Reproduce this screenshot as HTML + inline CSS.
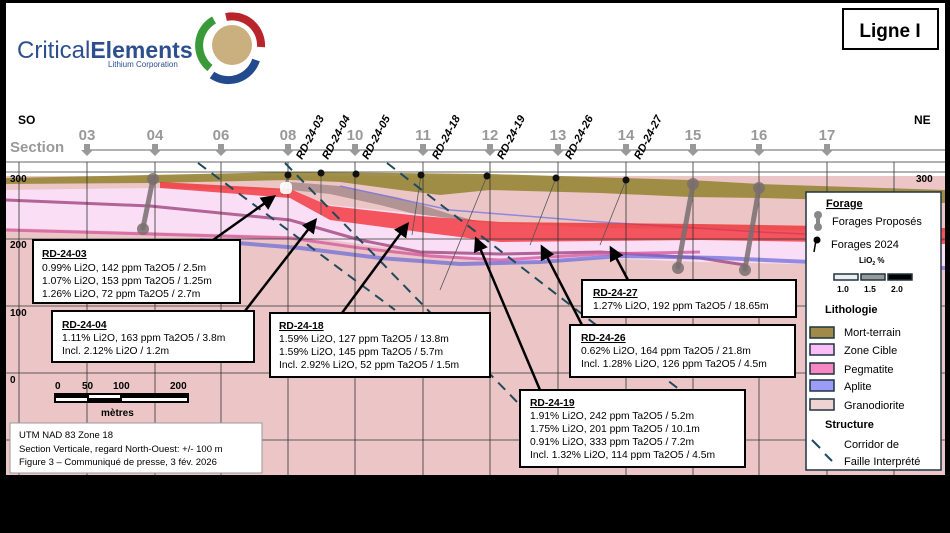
<!DOCTYPE html>
<html><head><meta charset="utf-8"><style>
html,body{margin:0;padding:0;background:#000;}
svg{display:block;}
text{font-family:"Liberation Sans",sans-serif;}
</style></head><body>
<svg width="950" height="533" viewBox="0 0 950 533" xmlns="http://www.w3.org/2000/svg">
<rect x="0" y="0" width="950" height="533" fill="#000"/>
<rect x="6" y="3" width="939" height="472" fill="#fff"/>
<rect x="6" y="172" width="939" height="303" fill="#ecc6c6"/>
<rect x="6" y="150" width="939" height="26" fill="#fff"/>
<path d="M6,178 L150,175 L290,172 L490,174 L690,180 L760,184 L945,190 L945,203 L760,198 L690,197 L600,193 L490,190 L440,195 L400,190 L340,182 L290,180 L150,183 L6,184 Z" fill="#9c8a3e" opacity="0.95"/>
<path d="M290,182 L340,186 L400,198 L450,214 L480,222 L470,228 L430,218 L380,205 L330,194 L290,190 Z" fill="#9a7f7f" opacity="0.7"/>
<path d="M6,190 L150,188 L290,190 L330,205 L400,212 L480,222 L600,228 L945,232 L945,268 L800,264 L700,262 L600,258 L500,262 L420,252 L330,240 L290,236 L150,232 L6,228 Z" fill="#f9def5"/>
<path d="M6,200 L150,206 L290,220 L360,240 L420,252 L500,254 L600,252 L700,258 L745,265" fill="none" stroke="#a0457e" stroke-width="3" opacity="0.8"/>
<path d="M6,230 L150,234 L290,238 L360,248 L430,256 L500,260 L600,254 L700,252" fill="none" stroke="#d45aa0" stroke-width="3" opacity="0.8"/>
<path d="M200,240 L300,248 L380,258 L460,264 L540,262 L620,256 L720,258 L945,268" fill="none" stroke="#6868d8" stroke-width="4" opacity="0.7"/>
<path d="M340,186 L450,210 L600,222 L760,232 L945,240" fill="none" stroke="#7878e0" stroke-width="1.5" opacity="0.8"/>
<path d="M160,182 L290,189 L330,206 L420,216 L500,222 L700,224 L945,228 L945,244 L700,240 L500,242 L420,232 L330,220 L290,198 L160,188 Z" fill="#f0262a" opacity="0.75"/>
<g stroke="#333" stroke-width="0.8" fill="none">
<line x1="6" y1="162" x2="945" y2="162"/><line x1="6" y1="172" x2="945" y2="172"/>
<line x1="6" y1="239" x2="945" y2="239"/><line x1="6" y1="306" x2="945" y2="306"/>
<line x1="6" y1="373" x2="945" y2="373"/><line x1="6" y1="440" x2="945" y2="440"/>
<line x1="19" y1="162" x2="19" y2="475"/><line x1="87" y1="162" x2="87" y2="475"/>
<line x1="155" y1="162" x2="155" y2="475"/><line x1="221" y1="162" x2="221" y2="475"/>
<line x1="288" y1="162" x2="288" y2="475"/><line x1="355" y1="162" x2="355" y2="475"/>
<line x1="423" y1="162" x2="423" y2="475"/><line x1="490" y1="162" x2="490" y2="475"/>
<line x1="558" y1="162" x2="558" y2="475"/><line x1="626" y1="162" x2="626" y2="475"/>
<line x1="693" y1="162" x2="693" y2="475"/><line x1="759" y1="162" x2="759" y2="475"/>
<line x1="827" y1="162" x2="827" y2="475"/><line x1="894" y1="162" x2="894" y2="475"/>
</g>
<line x1="85" y1="150" x2="945" y2="150" stroke="#999" stroke-width="1.5"/>
<g fill="#999" font-weight="bold" font-size="15" text-anchor="middle">
<text x="87" y="140">03</text><text x="155" y="140">04</text><text x="221" y="140">06</text><text x="288" y="140">08</text><text x="355" y="140">10</text><text x="423" y="140">11</text><text x="490" y="140">12</text><text x="558" y="140">13</text><text x="626" y="140">14</text><text x="693" y="140">15</text><text x="759" y="140">16</text><text x="827" y="140">17</text>
</g>
<g fill="#999">
<path d="M84,144h6v6h3l-6,6l-6-6h3z"/><path d="M152,144h6v6h3l-6,6l-6-6h3z"/><path d="M218,144h6v6h3l-6,6l-6-6h3z"/><path d="M285,144h6v6h3l-6,6l-6-6h3z"/><path d="M352,144h6v6h3l-6,6l-6-6h3z"/><path d="M420,144h6v6h3l-6,6l-6-6h3z"/><path d="M487,144h6v6h3l-6,6l-6-6h3z"/><path d="M555,144h6v6h3l-6,6l-6-6h3z"/><path d="M623,144h6v6h3l-6,6l-6-6h3z"/><path d="M690,144h6v6h3l-6,6l-6-6h3z"/><path d="M756,144h6v6h3l-6,6l-6-6h3z"/><path d="M824,144h6v6h3l-6,6l-6-6h3z"/>
</g>
<text x="10" y="152" fill="#999" font-weight="bold" font-size="15">Section</text>
<text x="18" y="124" font-weight="bold" font-size="12">SO</text>
<text x="914" y="124" font-weight="bold" font-size="12">NE</text>
<g font-size="11" font-weight="bold" font-style="italic">
<text transform="translate(302,160) rotate(-62)">RD-24-03</text>
<text transform="translate(328,160) rotate(-62)">RD-24-04</text>
<text transform="translate(368,160) rotate(-62)">RD-24-05</text>
<text transform="translate(438,160) rotate(-62)">RD-24-18</text>
<text transform="translate(503,160) rotate(-62)">RD-24-19</text>
<text transform="translate(571,160) rotate(-62)">RD-24-26</text>
<text transform="translate(640,160) rotate(-62)">RD-24-27</text>
</g>
<g font-size="10" font-weight="bold">
<text x="10" y="182">300</text><text x="10" y="248">200</text><text x="10" y="316">100</text><text x="10" y="383">0</text>
<text x="916" y="182">300</text>
</g>
<g stroke="#7a6e70" stroke-width="5" stroke-linecap="round" opacity="0.85">
<line x1="153" y1="179" x2="143" y2="228"/><line x1="693" y1="184" x2="678" y2="267"/><line x1="759" y1="188" x2="745" y2="269"/>
</g>
<g fill="#7a6e70" opacity="0.85"><circle cx="153" cy="179" r="6"/><circle cx="143" cy="229" r="6"/><circle cx="693" cy="184" r="6"/><circle cx="678" cy="268" r="6"/><circle cx="759" cy="188" r="6"/><circle cx="745" cy="270" r="6"/></g>
<g stroke="#555" stroke-width="0.8">
<line x1="288" y1="175" x2="282" y2="195"/><line x1="321" y1="173" x2="321" y2="215"/><line x1="421" y1="175" x2="412" y2="235"/><line x1="487" y1="176" x2="440" y2="290"/><line x1="556" y1="178" x2="530" y2="245"/><line x1="626" y1="180" x2="600" y2="245"/>
</g>
<g fill="#111"><circle cx="288" cy="175" r="3.5"/><circle cx="321" cy="173" r="3.5"/><circle cx="356" cy="174" r="3.5"/><circle cx="421" cy="175" r="3.5"/><circle cx="487" cy="176" r="3.5"/><circle cx="556" cy="178" r="3.5"/><circle cx="626" cy="180" r="3.5"/></g>
<rect x="280" y="182" width="12" height="12" rx="4" fill="#fff" opacity="0.9"/>
<g stroke="#1f4a5a" stroke-width="2" stroke-dasharray="10,7" fill="none">
<line x1="198" y1="163" x2="395" y2="310"/><line x1="285" y1="163" x2="520" y2="405"/><line x1="387" y1="163" x2="680" y2="390"/>
</g>
<defs><marker id="ah" markerWidth="6" markerHeight="6" refX="4" refY="3" orient="auto"><path d="M0,0L6,3L0,6z" fill="#000"/></marker></defs>
<g stroke="#000" stroke-width="2.5" marker-end="url(#ah)">
<line x1="213" y1="240" x2="272" y2="198"/><line x1="245" y1="311" x2="314" y2="222"/><line x1="342" y1="313" x2="406" y2="226"/><line x1="540" y1="390" x2="477" y2="241"/><line x1="582" y1="325" x2="543" y2="249"/><line x1="628" y1="280" x2="612" y2="250"/>
</g>
<g fill="#fff" stroke="#000" stroke-width="2">
<rect x="33" y="240" width="207" height="63"/><rect x="52" y="311" width="202" height="51"/><rect x="270" y="313" width="220" height="64"/><rect x="582" y="280" width="214" height="37"/><rect x="570" y="325" width="225" height="52"/><rect x="520" y="390" width="225" height="77"/>
</g>
<g font-size="10.3">
<text x="42" y="257" font-weight="bold" text-decoration="underline">RD-24-03</text>
<text x="42" y="271">0.99% Li2O, 142 ppm Ta2O5 / 2.5m</text><text x="42" y="284">1.07% Li2O, 153 ppm Ta2O5 / 1.25m</text><text x="42" y="297">1.26% Li2O, 72 ppm Ta2O5 / 2.7m</text>
<text x="62" y="328" font-weight="bold" text-decoration="underline">RD-24-04</text>
<text x="62" y="341">1.11% Li2O, 163 ppm Ta2O5 / 3.8m</text><text x="62" y="354">Incl. 2.12% Li2O / 1.2m</text>
<text x="279" y="329" font-weight="bold" text-decoration="underline">RD-24-18</text>
<text x="279" y="342">1.59% Li2O, 127 ppm Ta2O5 / 13.8m</text><text x="279" y="355">1.59% Li2O, 145 ppm Ta2O5 / 5.7m</text><text x="279" y="368">Incl. 2.92% Li2O, 52 ppm Ta2O5 / 1.5m</text>
<text x="593" y="296" font-weight="bold" text-decoration="underline">RD-24-27</text>
<text x="593" y="309">1.27% Li2O, 192 ppm Ta2O5 / 18.65m</text>
<text x="581" y="341" font-weight="bold" text-decoration="underline">RD-24-26</text>
<text x="581" y="354">0.62% Li2O, 164 ppm Ta2O5 / 21.8m</text><text x="581" y="367">Incl. 1.28% Li2O, 126 ppm Ta2O5 / 4.5m</text>
<text x="530" y="406" font-weight="bold" text-decoration="underline">RD-24-19</text>
<text x="530" y="419">1.91% Li2O, 242 ppm Ta2O5 / 5.2m</text><text x="530" y="432">1.75% Li2O, 201 ppm Ta2O5 / 10.1m</text><text x="530" y="445">0.91% Li2O, 333 ppm Ta2O5 / 7.2m</text><text x="530" y="458">Incl. 1.32% Li2O, 114 ppm Ta2O5 / 4.5m</text>
</g>
<g font-size="10" font-weight="bold"><text x="55" y="389">0</text><text x="82" y="389">50</text><text x="113" y="389">100</text><text x="170" y="389">200</text><text x="101" y="416">mètres</text></g>
<rect x="54" y="393" width="135" height="10" fill="#000"/>
<rect x="56" y="398" width="31" height="3" fill="#fff"/><rect x="89" y="395" width="31" height="3" fill="#fff"/><rect x="122" y="398" width="65" height="3" fill="#fff"/>
<rect x="10" y="423" width="252" height="50" fill="#fff" stroke="#999" stroke-width="1"/>
<g font-size="9.5"><text x="19" y="438">UTM NAD 83 Zone 18</text><text x="19" y="452">Section Verticale, regard North-Ouest: +/- 100 m</text><text x="19" y="465">Figure 3 – Communiqué de presse, 3 fév. 2026</text></g>
<rect x="806" y="192" width="135" height="278" fill="#fff" stroke="#1f3440" stroke-width="1.5"/>
<text x="826" y="207" font-weight="bold" font-size="11" text-decoration="underline">Forage</text>
<line x1="818" y1="215" x2="818" y2="226" stroke="#888" stroke-width="4"/><circle cx="818" cy="215" r="4" fill="#888"/><circle cx="818" cy="227" r="4" fill="#888"/>
<text x="832" y="225" font-size="11">Forages Proposés</text>
<line x1="816" y1="240" x2="814" y2="252" stroke="#000" stroke-width="1.5"/><circle cx="817" cy="240" r="3.5" fill="#000"/>
<text x="831" y="248" font-size="11">Forages 2024</text>
<text x="859" y="263" font-size="8" font-weight="bold">LiO<tspan font-size="5" dy="2">2</tspan><tspan dy="-2"> %</tspan></text>
<rect x="834" y="274" width="24" height="6" fill="#eee" stroke="#1f3440" stroke-width="1.5"/>
<rect x="861" y="274" width="24" height="6" fill="#999" stroke="#1f3440" stroke-width="1.5"/>
<rect x="888" y="274" width="24" height="6" fill="#000" stroke="#1f3440" stroke-width="1.5"/>
<g font-size="8.5" font-weight="bold"><text x="837" y="292">1.0</text><text x="864" y="292">1.5</text><text x="891" y="292">2.0</text></g>
<text x="825" y="313" font-weight="bold" font-size="11">Lithologie</text>
<g stroke="#1f3440" stroke-width="1.5">
<rect x="810" y="327" width="24" height="11" fill="#a08a4a"/><rect x="810" y="344" width="24" height="11" fill="#fbbdf8"/><rect x="810" y="363" width="24" height="11" fill="#f787c3"/><rect x="810" y="380" width="24" height="11" fill="#9a9cf6"/><rect x="810" y="399" width="24" height="11" fill="#efd2d2"/>
</g>
<g font-size="11"><text x="844" y="336">Mort-terrain</text><text x="844" y="354">Zone Cible</text><text x="844" y="373">Pegmatite</text><text x="844" y="390">Aplite</text><text x="844" y="409">Granodiorite</text></g>
<text x="825" y="428" font-weight="bold" font-size="11">Structure</text>
<g stroke="#1f4a5a" stroke-width="2"><line x1="812" y1="440" x2="820" y2="448"/><line x1="825" y1="454" x2="832" y2="461"/></g>
<g font-size="11"><text x="844" y="448">Corridor de</text><text x="844" y="465">Faille Interprété</text></g>
<rect x="843" y="9" width="95" height="40" fill="#fff" stroke="#000" stroke-width="2"/>
<text x="890" y="37" font-weight="bold" font-size="19" text-anchor="middle">Ligne I</text>
<text x="17" y="58" font-size="24" fill="#2d4f8e">Critical<tspan font-weight="bold" font-size="23">Elements</tspan></text>
<text x="108" y="67" font-size="8" fill="#2d4f8e">Lithium Corporation</text>
<circle cx="232" cy="45" r="20" fill="#c9b07e"/>
<path d="M214,20 A29,29 0 0 0 210,68" fill="none" stroke="#3a9a3a" stroke-width="8"/>
<path d="M226,17 A29,29 0 0 1 261,47" fill="none" stroke="#b8252a" stroke-width="8"/>
<path d="M256,60 A29,29 0 0 1 212,75" fill="none" stroke="#244a8e" stroke-width="8"/>
</svg>
</body></html>
